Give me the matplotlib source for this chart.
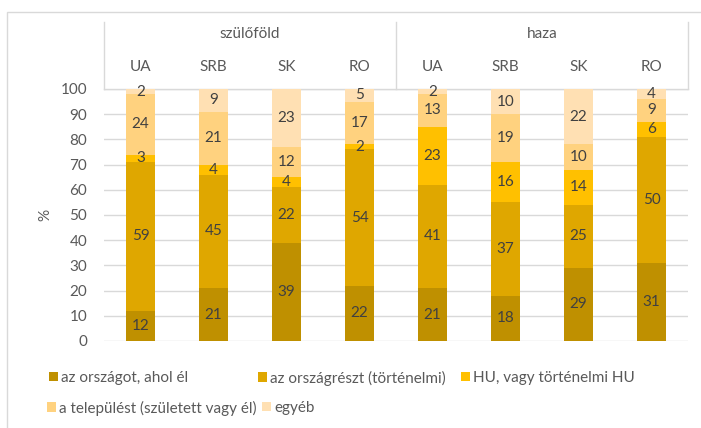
import matplotlib
matplotlib.use("Agg")
import matplotlib.pyplot as plt
from matplotlib.patches import Rectangle
import numpy as np

plt.rcParams['font.family'] = ['Lato', 'DejaVu Sans']

groups = ["szülőföld", "haza"]
categories = ["UA", "SRB", "SK", "RO", "UA", "SRB", "SK", "RO"]
series_names = ["az országot, ahol él", "az országrészt (történelmi)",
                "HU, vagy történelmi HU", "a települést (született vagy él)", "egyéb"]
orszag = [12, 21, 39, 22, 21, 18, 29, 31]
orszagresz = [59, 45, 22, 54, 41, 37, 25, 50]
hu = [3, 4, 4, 2, 23, 16, 14, 6]
telepules = [24, 21, 12, 17, 13, 19, 10, 9]
egyeb = [2, 9, 23, 5, 2, 10, 22, 4]
colors = ["#BF9000", "#DFA700", "#FFC000", "#FFD27F", "#FFE0B3"]

series = [orszag, orszagresz, hu, telepules, egyeb]

fig = plt.figure(figsize=(7.01, 4.28), dpi=100)
# outer border
fig.patches.append(Rectangle((7/701, -0.01), 1.0, (428-12)/428 + 0.01, transform=fig.transFigure,
                             fill=False, edgecolor="#D9D9D9", linewidth=1.0))
ax = fig.add_axes([104/701, (428-341)/428, 584/701, 252/428])

x = np.arange(len(categories))
bottom = np.zeros(len(categories))
handles = []
for vals, col, name in zip(series, colors, series_names):
    v = np.array(vals, dtype=float)
    b = ax.bar(x, v, bottom=bottom, width=0.39, color=col, label=name, zorder=3)
    handles.append(b)
    for xi, vi, bi in zip(x, v, bottom):
        ax.text(xi, bi + vi/2, f"{int(vi)}", ha="center", va="center",
                fontsize=11, color="#404040", zorder=4)
    bottom += v

ax.set_xlim(-0.5, len(categories) - 0.5)
ax.set_ylim(0, 100)
ax.set_yticks(np.arange(0, 101, 10))
ax.yaxis.grid(True, color="#D9D9D9", linewidth=1.0, zorder=0)
ax.set_axisbelow(True)
for s in ax.spines.values():
    s.set_visible(False)
ax.tick_params(axis="y", length=0, pad=12, labelsize=11, labelcolor="#595959")
ax.set_xticks([])
ax.set_ylabel("%", fontsize=11, color="#595959", labelpad=6)

# header: categories and groups
for xi, c in zip(x, categories):
    ax.text(xi, 108.7, c, ha="center", va="center", fontsize=11, color="#595959", clip_on=False)
for gi, g in enumerate(groups):
    ax.text(gi*4 + 1.5, 121.8, g, ha="center", va="center", fontsize=11, color="#595959", clip_on=False)
for xv in [-0.5, 3.5, 7.5]:
    ax.plot([xv, xv], [100, 126.6], color="#D9D9D9", linewidth=1.0, clip_on=False)
ax.plot([-0.5, 7.5], [100, 100], color="#D9D9D9", linewidth=1.0, clip_on=False)

# legend entries placed individually (row-major like the reference)
leg_pos = [(49, 378), (258, 378), (461, 378), (47, 408), (262, 408)]
for h, name, (px, py) in zip(handles, series_names, leg_pos):
    leg = fig.legend([h], [name], loc="center left",
                     bbox_to_anchor=(px/701, 1 - py/428),
                     frameon=False, fontsize=11, handlelength=0.6, handleheight=0.6,
                     handletextpad=0.2, borderaxespad=0, borderpad=0)
    for t in leg.get_texts():
        t.set_color("#595959")

fig.savefig("out.png", dpi=100)
